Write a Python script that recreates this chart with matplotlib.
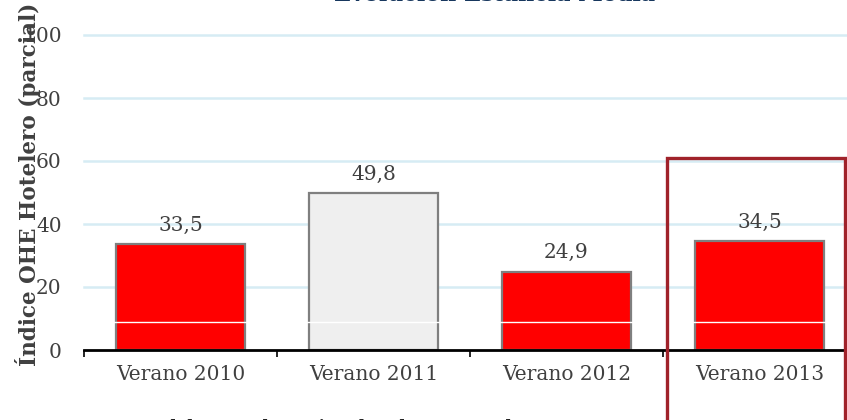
import matplotlib
matplotlib.use("Agg")
import matplotlib.pyplot as plt
from matplotlib.patches import Rectangle

categories = ["Verano 2010", "Verano 2011", "Verano 2012", "Verano 2013"]
values = [33.5, 49.8, 24.9, 34.5]
value_labels = ["33,5", "49,8", "24,9", "34,5"]
bar_colors = ["#FF0000", "#EFEFEF", "#FF0000", "#FF0000"]
yticks = [0, 20, 40, 60, 80, 100]

W, H = 847, 420
fig = plt.figure(figsize=(W / 100, H / 100), dpi=100)
plt.rcParams['font.family'] = ['DejaVu Serif']

ax = fig.add_axes([84 / W, (H - 350) / H, 772 / W, (350 - 35) / H])
ax.set_xlim(-0.5, len(categories) - 0.5)
ax.set_ylim(0, 100)

for y in yticks[1:]:
    ax.axhline(y, color="#D6ECF4", lw=1.8, zorder=0, clip_on=False)

x = list(range(len(categories)))
ax.bar(x, values, width=0.67, color=bar_colors, edgecolor="#7F7F7F", linewidth=1.6, zorder=2)
ax.axhline(8.8, color="white", lw=1.0, zorder=3, clip_on=False)

for xi, v, lab in zip(x, values, value_labels):
    ax.annotate(lab, (xi, v), xytext=(0, 7), textcoords="offset points",
                ha="center", va="bottom", fontsize=14.5, color="#404040")

ax.set_yticks(yticks)
ax.set_yticklabels([str(t) for t in yticks], fontsize=14.5, color="#404040")
ax.tick_params(axis="y", length=0, pad=16)
ax.set_xticks(x)
ax.set_xticklabels(categories, fontsize=14.5, color="#404040")
ax.tick_params(axis="x", which="major", length=0, pad=11)
ax.set_xticks([i - 0.5 for i in range(len(categories) + 1)], minor=True)
ax.tick_params(axis="x", which="minor", length=5, width=1.2, color="black", direction="out")

for s in ["top", "right", "left"]:
    ax.spines[s].set_visible(False)
ax.spines["bottom"].set_color("black")
ax.spines["bottom"].set_linewidth(2)

fig.text(28 / W, 1 - 184 / H, "Índice OHE Hotelero (parcial)", rotation=90,
         ha="center", va="center", fontsize=15.5, fontweight="bold", color="#404040")
fig.text(495 / W, 1 - 6 / H, "Evolución Estancia Media", ha="center", va="bottom",
         fontsize=16, fontweight="bold", color="#17375E")
fig.text(165 / W, 1 - 419 / H, "del mercado nacional en la temporada", ha="left", va="top",
         fontsize=12, fontweight="bold", color="#222222")

fig.patches.append(Rectangle((667 / W, -10 / H), (845 - 667) / W, (430 - 158) / H,
                             transform=fig.transFigure, fill=False,
                             edgecolor="#A0222A", linewidth=2.4, zorder=10))

fig.savefig("out.png", dpi=100)
